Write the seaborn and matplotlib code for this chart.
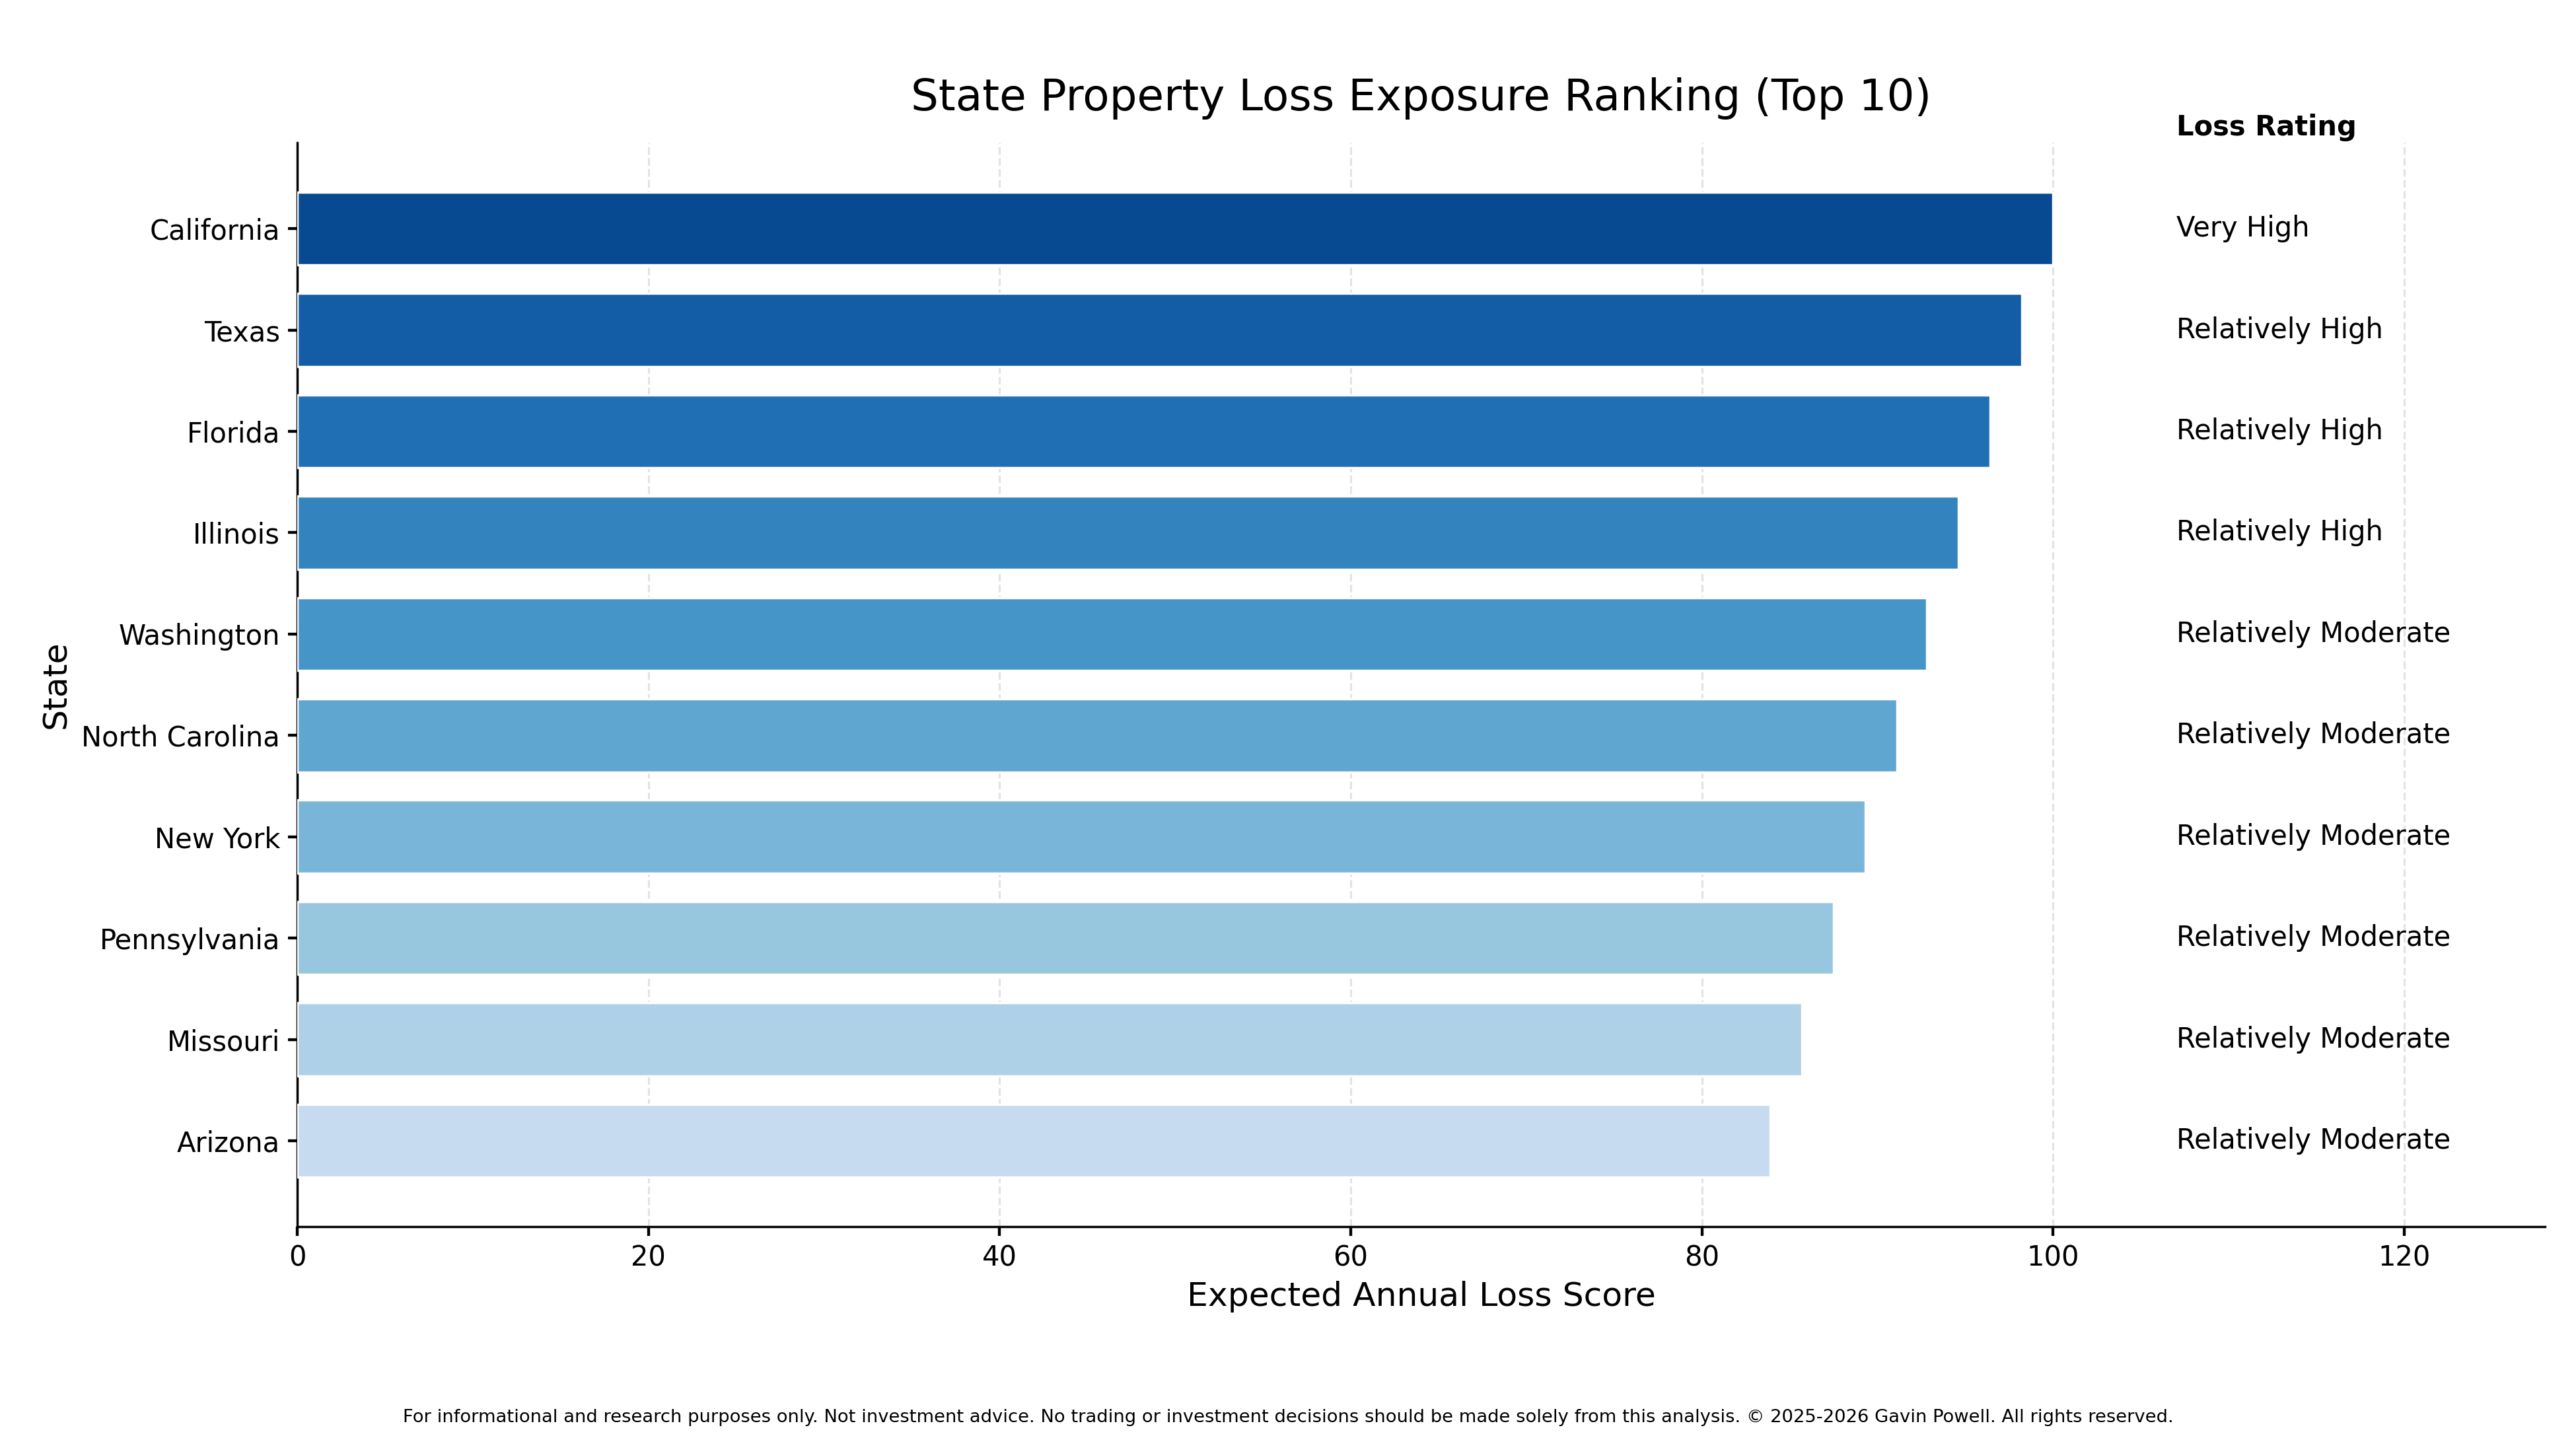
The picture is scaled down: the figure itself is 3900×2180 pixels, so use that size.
import numpy as np
import pandas as pd
import matplotlib
matplotlib.use('Agg')
import matplotlib.pyplot as plt
import seaborn as sns

states = ['California', 'Texas', 'Florida', 'Illinois', 'Washington',
          'North Carolina', 'New York', 'Pennsylvania', 'Missouri', 'Arizona']
scores = [100.0, 98.2, 96.4, 94.6, 92.8, 91.1, 89.3, 87.5, 85.7, 83.9]
ratings = ['Very High', 'Relatively High', 'Relatively High', 'Relatively High',
           'Relatively Moderate', 'Relatively Moderate', 'Relatively Moderate',
           'Relatively Moderate', 'Relatively Moderate', 'Relatively Moderate']

df = pd.DataFrame({'State': states, 'Score': scores, 'Rating': ratings})

sns.set_theme(style='white')
plt.rcParams['font.family'] = ['DejaVu Sans']
plt.rcParams['text.color'] = 'black'
plt.rcParams['axes.labelcolor'] = 'black'
plt.rcParams['xtick.color'] = 'black'
plt.rcParams['ytick.color'] = 'black'

fig = plt.figure(figsize=(15.6, 8.72), dpi=250)
ax = fig.add_axes([0.1154, 0.148, 0.8725, 0.753])

cmap = plt.get_cmap('Blues')
colors = [cmap(v) for v in np.linspace(0.9, 0.25, len(states))]
sns.barplot(data=df, x='Score', y='State', hue='State', palette=colors,
            legend=False, orient='h', width=0.72, saturation=1, ax=ax, zorder=3)

ax.set_xlim(0, 128)
ax.set_ylim(9.85, -0.85)
ax.set_xticks([0, 20, 40, 60, 80, 100, 120])
ax.grid(axis='x', linestyle='--', color='#e3e3e3', linewidth=0.9, zorder=0)
for s in ['top', 'right']:
    ax.spines[s].set_visible(False)
for s in ['left', 'bottom']:
    ax.spines[s].set_color('black')
    ax.spines[s].set_linewidth(1.0)
ax.tick_params(axis='both', labelsize=12, length=4, color='black', left=True, bottom=True)

for i, r in enumerate(ratings):
    ax.text(107, i, r, va='center', ha='left', fontsize=12)
ax.text(107, -1.0, 'Loss Rating', va='center', ha='left', fontsize=12, fontweight='bold')

ax.set_xlabel('Expected Annual Loss Score', fontsize=14.5)
ax.set_ylabel('State', fontsize=14.5)
ax.set_title('State Property Loss Exposure Ranking (Top 10)', fontsize=19, pad=14)

fig.text(0.5, 0.0126, 'For informational and research purposes only. Not investment advice. '
         'No trading or investment decisions should be made solely from this analysis. '
         '\u00a9 2025-2026 Gavin Powell. All rights reserved.', ha='center', fontsize=7.9)

fig.savefig('out.png', dpi=250)
